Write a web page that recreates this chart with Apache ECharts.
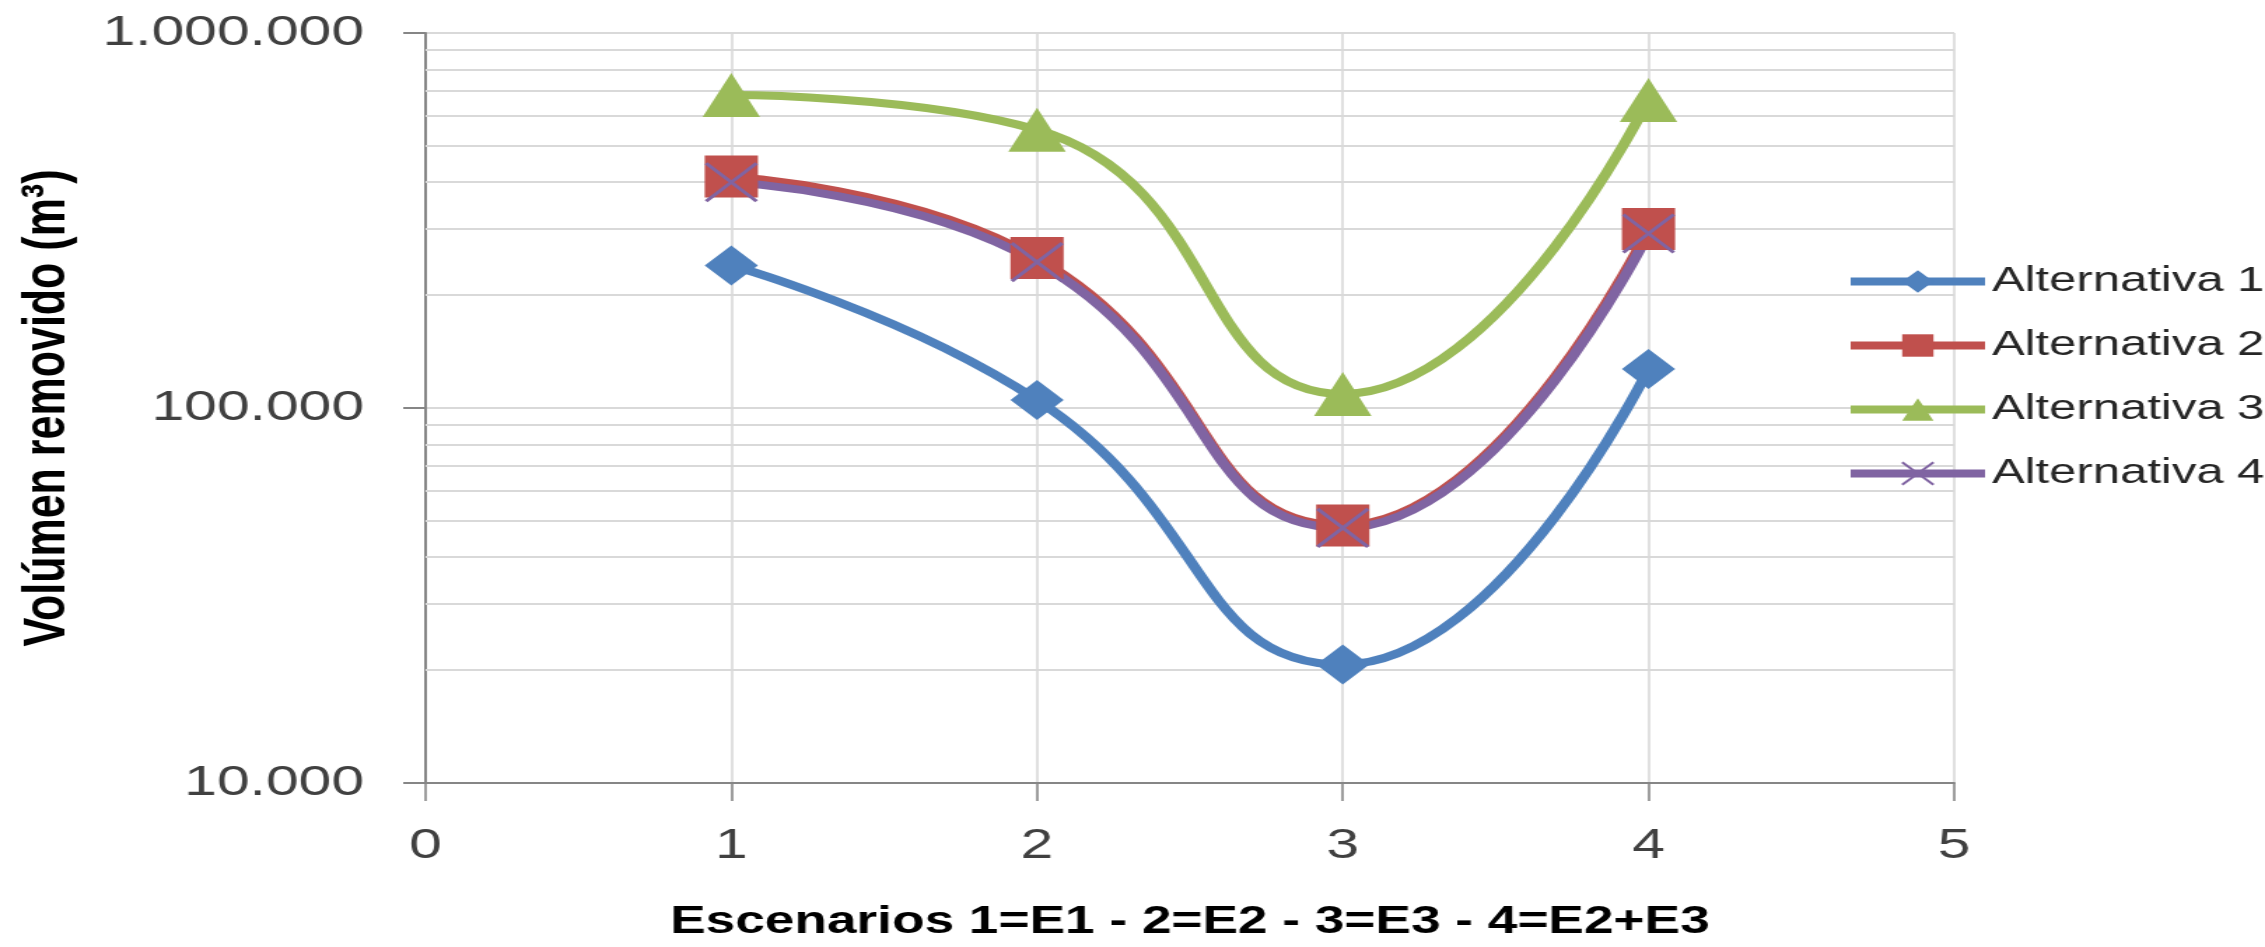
<!DOCTYPE html>
<html>
<head>
<meta charset="utf-8">
<title>Volúmen removido</title>
<script src="https://cdn.jsdelivr.net/npm/echarts@6/dist/echarts.min.js"></script>
<style>
  html, body { margin: 0; padding: 0; background: #fff; overflow: hidden; }
  /* the source picture is stretched sideways, so draw narrow and widen it */
  #chart { width: 1618px; height: 947px; transform: scaleX(1.39988); transform-origin: 0 0; }
</style>
</head>
<body>
<div id="chart"></div>
<script>
// escenarios 1=E1 - 2=E2 - 3=E3 - 4=E2+E3
const escenarios = [1, 2, 3, 4];
const alternativa1 = [240000, 105000, 20700, 127000];
const alternativa2 = [414000, 251000, 48600, 300000];
const alternativa3 = [683000, 552000, 109000, 663000];
const alternativa4 = [400000, 245000, 47900, 292000];
const seriesNames = ['Alternativa 1', 'Alternativa 2', 'Alternativa 3', 'Alternativa 4'];
// log grid lines between the decades
const minorGrid = [20000, 30000, 40000, 50000, 60000, 70000, 80000, 90000,
                   200000, 300000, 400000, 500000, 600000, 700000, 800000, 900000];

const font = "'Liberation Sans', Arial, sans-serif";
const axisGray = '#868686';
const gridGray = '#d9d9d9';

const pairs = ys => escenarios.map((x, i) => [x, ys[i]]);
const thousands = v => String(v).replace(/\B(?=(\d{3})+(?!\d))/g, '.');

function lineSeries(name, ys, color, symbol, size, itemStyle) {
    return {
        name: name,
        type: 'line',
        data: pairs(ys),
        smooth: 0.5,
        symbol: symbol,
        symbolSize: size,
        showAllSymbol: true,
        lineStyle: { color: color, width: 8 },
        itemStyle: itemStyle || { color: color },
        emphasis: { disabled: true },
        z: 3
    };
}

const chart = echarts.init(document.getElementById('chart'));
chart.setOption({
    animation: false,
    backgroundColor: '#fff',
    grid: { left: 304, right: 222, top: 33, bottom: 155 },
    legend: {
        data: seriesNames,
        orient: 'vertical',
        left: 1318,
        top: 264,
        padding: 0,
        itemWidth: 96,
        itemHeight: 28,
        itemGap: 29,
        selectedMode: false,
        lineStyle: { width: 8 },
        textStyle: { fontFamily: font, fontSize: 35, color: '#262626' }
    },
    xAxis: {
        type: 'value',
        min: 0,
        max: 5,
        interval: 1,
        name: 'Escenarios 1=E1 - 2=E2 - 3=E3 - 4=E2+E3',
        nameLocation: 'middle',
        nameGap: 121,
        nameTextStyle: { fontFamily: font, fontWeight: 'bold', fontSize: 38, color: '#000' },
        axisLine: { lineStyle: { color: axisGray, width: 2 } },
        axisTick: { show: true, length: 18, lineStyle: { color: axisGray, width: 1.6 } },
        axisLabel: { margin: 42, fontFamily: font, fontSize: 42, color: '#404040' },
        splitLine: { show: true, lineStyle: { color: gridGray, width: 1.6 } }
    },
    yAxis: {
        type: 'log',
        logBase: 10,
        min: 10000,
        max: 1000000,
        name: 'Volúmen removido (m³)',
        nameLocation: 'middle',
        nameGap: 248,
        nameTextStyle: { fontFamily: font, fontWeight: 'bold', fontSize: 43, color: '#000' },
        axisLine: { show: true, lineStyle: { color: axisGray, width: 2 } },
        axisTick: { show: true, length: 16, lineStyle: { color: axisGray, width: 2 } },
        axisLabel: { margin: 44, fontFamily: font, fontSize: 42, color: '#404040', formatter: thousands },
        splitLine: { show: true, lineStyle: { color: gridGray, width: 2 } }
    },
    series: [
        {
            type: 'line',
            data: [],
            silent: true,
            z: 1,
            markLine: {
                silent: true,
                z: 1,
                symbol: 'none',
                animation: false,
                label: { show: false },
                emphasis: { disabled: true },
                lineStyle: { color: gridGray, width: 2, type: 'solid' },
                data: minorGrid.map(v => ({ yAxis: v }))
            }
        },
        lineSeries(seriesNames[0], alternativa1, '#4F81BD', 'diamond', [38, 40]),
        lineSeries(seriesNames[1], alternativa2, '#C0504D', 'rect', [38, 42]),
        lineSeries(seriesNames[2], alternativa3, '#9BBB59', 'triangle', [41, 44]),
        lineSeries(seriesNames[3], alternativa4, '#8064A2', 'path://M0,0L10,10M10,0L0,10', [36, 38],
            { color: 'rgba(0,0,0,0)', borderColor: '#8064A2', borderWidth: 3 })
    ]
});
</script>
</body>
</html>
